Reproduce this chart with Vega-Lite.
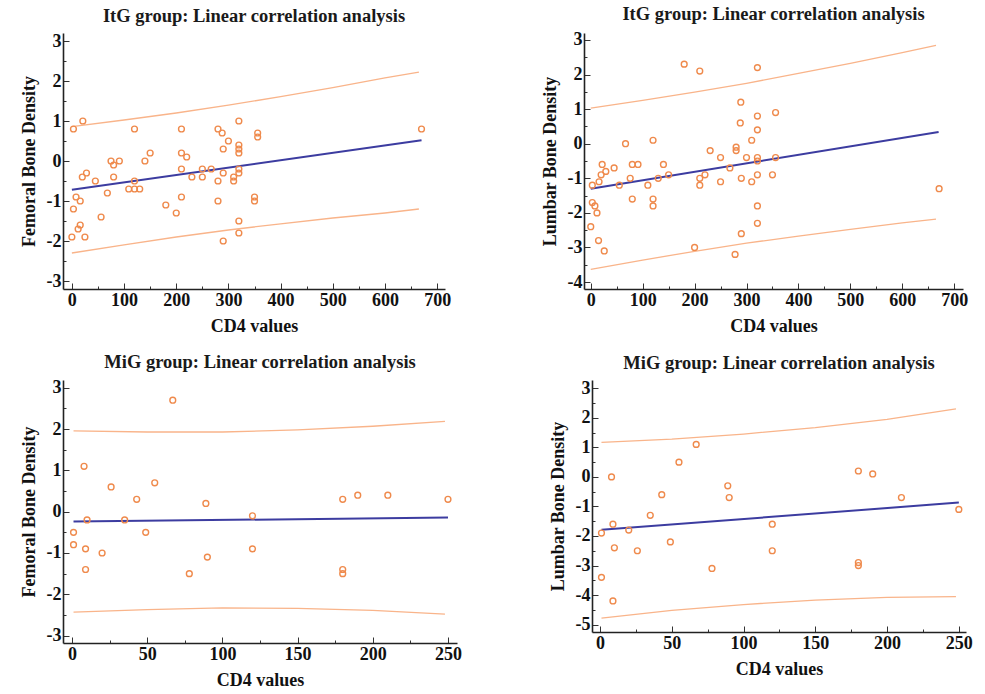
{
  "$schema": "https://vega.github.io/schema/vega-lite/v6.json",
  "background": "white",
  "padding": {"left": 20, "top": 5, "right": 2, "bottom": 2},
  "spacing": 18,
  "datasets": {
    "p1": [
      {"x":3,"y":0.8},{"x":21,"y":1.0},{"x":3,"y":-1.2},{"x":8,"y":-0.9},{"x":16,"y":-1.0},{"x":0,"y":-1.9},{"x":12,"y":-1.7},{"x":16,"y":-1.6},{"x":25,"y":-1.9},{"x":20,"y":-0.4},{"x":28,"y":-0.3},{"x":45,"y":-0.5},{"x":56,"y":-1.4},{"x":68,"y":-0.8},{"x":75,"y":0},{"x":80,"y":-0.1},{"x":80,"y":-0.4},{"x":91,"y":0},{"x":120,"y":0.8},{"x":120,"y":-0.5},{"x":109,"y":-0.7},{"x":120,"y":-0.7},{"x":130,"y":-0.7},{"x":140,"y":0},{"x":150,"y":0.2},{"x":180,"y":-1.1},{"x":200,"y":-1.3},{"x":210,"y":0.8},{"x":210,"y":0.2},{"x":220,"y":0.1},{"x":210,"y":-0.2},{"x":210,"y":-0.9},{"x":230,"y":-0.4},{"x":250,"y":-0.2},{"x":250,"y":-0.4},{"x":267,"y":-0.2},{"x":280,"y":0.8},{"x":288,"y":0.7},{"x":280,"y":-0.5},{"x":280,"y":-1.0},{"x":290,"y":0.3},{"x":290,"y":-0.3},{"x":290,"y":-2.0},{"x":300,"y":0.5},{"x":310,"y":-0.4},{"x":310,"y":-0.5},{"x":320,"y":1.0},{"x":320,"y":0.4},{"x":320,"y":0.3},{"x":320,"y":0.2},{"x":320,"y":-0.2},{"x":320,"y":-0.3},{"x":320,"y":-1.5},{"x":320,"y":-1.8},{"x":350,"y":-0.9},{"x":350,"y":-1.0},{"x":356,"y":0.7},{"x":356,"y":0.6},{"x":670,"y":0.8}
    ],
    "l1": [
      {"x":0,"y":-0.72,"s":"fit"},{"x":670,"y":0.52,"s":"fit"},
      {"x":0,"y":0.86,"s":"upper"},{"x":100,"y":1.025,"s":"upper"},{"x":200,"y":1.2,"s":"upper"},{"x":300,"y":1.395,"s":"upper"},{"x":400,"y":1.61,"s":"upper"},{"x":500,"y":1.835,"s":"upper"},{"x":600,"y":2.08,"s":"upper"},{"x":665,"y":2.22,"s":"upper"},
      {"x":0,"y":-2.3,"s":"lower"},{"x":100,"y":-2.095,"s":"lower"},{"x":200,"y":-1.9,"s":"lower"},{"x":300,"y":-1.725,"s":"lower"},{"x":400,"y":-1.57,"s":"lower"},{"x":500,"y":-1.425,"s":"lower"},{"x":600,"y":-1.3,"s":"lower"},{"x":665,"y":-1.2,"s":"lower"}
    ],
    "p2": [
      {"x":0,"y":-2.4},{"x":3,"y":-1.2},{"x":3,"y":-1.7},{"x":8,"y":-1.8},{"x":12,"y":-2.0},{"x":15,"y":-2.8},{"x":16,"y":-1.1},{"x":20,"y":-0.9},{"x":22,"y":-0.6},{"x":26,"y":-3.1},{"x":29,"y":-0.8},{"x":45,"y":-0.7},{"x":55,"y":-1.2},{"x":67,"y":0},{"x":76,"y":-1.0},{"x":80,"y":-0.6},{"x":80,"y":-1.6},{"x":91,"y":-0.6},{"x":110,"y":-1.2},{"x":120,"y":0.1},{"x":120,"y":-1.6},{"x":120,"y":-1.8},{"x":130,"y":-1.0},{"x":140,"y":-0.6},{"x":150,"y":-0.9},{"x":180,"y":2.3},{"x":200,"y":-3.0},{"x":210,"y":2.1},{"x":210,"y":-1.0},{"x":210,"y":-1.2},{"x":220,"y":-0.9},{"x":230,"y":-0.2},{"x":250,"y":-0.4},{"x":250,"y":-1.1},{"x":268,"y":-0.7},{"x":280,"y":-0.1},{"x":280,"y":-0.2},{"x":278,"y":-3.2},{"x":289,"y":1.2},{"x":288,"y":0.6},{"x":290,"y":-1.0},{"x":290,"y":-2.6},{"x":300,"y":-0.4},{"x":310,"y":0.1},{"x":310,"y":-1.1},{"x":321,"y":2.2},{"x":321,"y":0.8},{"x":321,"y":0.4},{"x":321,"y":-0.4},{"x":321,"y":-0.5},{"x":321,"y":-0.9},{"x":321,"y":-1.8},{"x":321,"y":-2.3},{"x":350,"y":-0.9},{"x":356,"y":0.9},{"x":356,"y":-0.4},{"x":671,"y":-1.3}
    ],
    "l2": [
      {"x":0,"y":-1.3,"s":"fit"},{"x":670,"y":0.34,"s":"fit"},
      {"x":0,"y":1.03,"s":"upper"},{"x":100,"y":1.255,"s":"upper"},{"x":200,"y":1.49,"s":"upper"},{"x":300,"y":1.745,"s":"upper"},{"x":400,"y":2.03,"s":"upper"},{"x":500,"y":2.325,"s":"upper"},{"x":600,"y":2.63,"s":"upper"},{"x":665,"y":2.84,"s":"upper"},
      {"x":0,"y":-3.63,"s":"lower"},{"x":100,"y":-3.365,"s":"lower"},{"x":200,"y":-3.11,"s":"lower"},{"x":300,"y":-2.875,"s":"lower"},{"x":400,"y":-2.67,"s":"lower"},{"x":500,"y":-2.475,"s":"lower"},{"x":600,"y":-2.29,"s":"lower"},{"x":665,"y":-2.18,"s":"lower"}
    ],
    "p3": [
      {"x":1,"y":-0.5},{"x":1,"y":-0.8},{"x":8,"y":1.1},{"x":9,"y":-0.9},{"x":9,"y":-1.4},{"x":10,"y":-0.2},{"x":20,"y":-1.0},{"x":26,"y":0.6},{"x":35,"y":-0.2},{"x":43,"y":0.3},{"x":49,"y":-0.5},{"x":55,"y":0.7},{"x":67,"y":2.7},{"x":78,"y":-1.5},{"x":89,"y":0.2},{"x":90,"y":-1.1},{"x":120,"y":-0.1},{"x":120,"y":-0.9},{"x":180,"y":0.3},{"x":180,"y":-1.4},{"x":180,"y":-1.5},{"x":190,"y":0.4},{"x":210,"y":0.4},{"x":250,"y":0.3}
    ],
    "l3": [
      {"x":1,"y":-0.24,"s":"fit"},{"x":250,"y":-0.14,"s":"fit"},
      {"x":1,"y":1.96,"s":"upper"},{"x":50,"y":1.93,"s":"upper"},{"x":100,"y":1.93,"s":"upper"},{"x":150,"y":1.98,"s":"upper"},{"x":200,"y":2.07,"s":"upper"},{"x":248,"y":2.19,"s":"upper"},
      {"x":1,"y":-2.43,"s":"lower"},{"x":50,"y":-2.37,"s":"lower"},{"x":100,"y":-2.33,"s":"lower"},{"x":150,"y":-2.34,"s":"lower"},{"x":200,"y":-2.39,"s":"lower"},{"x":248,"y":-2.48,"s":"lower"}
    ],
    "p4": [
      {"x":1,"y":-1.9},{"x":1,"y":-3.4},{"x":8,"y":0},{"x":9,"y":-1.6},{"x":9,"y":-4.2},{"x":10,"y":-2.4},{"x":20,"y":-1.8},{"x":26,"y":-2.5},{"x":35,"y":-1.3},{"x":43,"y":-0.6},{"x":49,"y":-2.2},{"x":55,"y":0.5},{"x":67,"y":1.1},{"x":78,"y":-3.1},{"x":89,"y":-0.3},{"x":90,"y":-0.7},{"x":120,"y":-1.6},{"x":120,"y":-2.5},{"x":180,"y":0.2},{"x":180,"y":-2.9},{"x":180,"y":-3.0},{"x":190,"y":0.1},{"x":210,"y":-0.7},{"x":250,"y":-1.1}
    ],
    "l4": [
      {"x":1,"y":-1.79,"s":"fit"},{"x":250,"y":-0.87,"s":"fit"},
      {"x":1,"y":1.17,"s":"upper"},{"x":50,"y":1.28,"s":"upper"},{"x":100,"y":1.45,"s":"upper"},{"x":150,"y":1.67,"s":"upper"},{"x":200,"y":1.95,"s":"upper"},{"x":248,"y":2.3,"s":"upper"},
      {"x":1,"y":-4.78,"s":"lower"},{"x":50,"y":-4.52,"s":"lower"},{"x":100,"y":-4.32,"s":"lower"},{"x":150,"y":-4.17,"s":"lower"},{"x":200,"y":-4.08,"s":"lower"},{"x":248,"y":-4.05,"s":"lower"}
    ]
  },
  "vconcat": [
    {
      "spacing": 90,
      "hconcat": [
        {
          "width": 382, "height": 256,
          "title": "ItG group: Linear correlation analysis",
          "encoding": {
            "x": {"field": "x", "type": "quantitative", "scale": {"domain": [-17, 715], "nice": false, "zero": false},
                  "axis": {"title": "CD4 values", "values": [0,50,100,150,200,250,300,350,400,450,500,550,600,650,700], "labelExpr": "datum.value % 100 === 0 ? '' + datum.value : ''", "tickSize": {"condition": {"test": "datum.value % 100 !== 0", "value": -3}, "value": -6}}},
            "y": {"field": "y", "type": "quantitative", "scale": {"domain": [-3.2, 3.2], "nice": false, "zero": false},
                  "axis": {"title": "Femoral Bone Density", "values": [-3,-2.5,-2,-1.5,-1,-0.5,0,0.5,1,1.5,2,2.5,3], "labelExpr": "datum.value % 1 === 0 ? '' + datum.value : ''", "tickSize": {"condition": {"test": "datum.value % 1 !== 0", "value": -3}, "value": -6}}}
          },
          "layer": [
            {"data": {"name": "l1"}, "mark": {"type": "line"}, "encoding": {"detail": {"field": "s"}, "color": {"field": "s", "type": "nominal", "scale": {"domain": ["fit","upper","lower"], "range": ["#3c3ca0","#f9b48a","#f9b48a"]}, "legend": null}, "strokeWidth": {"condition": {"test": "datum.s === 'fit'", "value": 2}, "value": 1.3}}},
            {"data": {"name": "p1"}, "mark": {"type": "point", "filled": false, "color": "#ef8a4c", "strokeWidth": 1.4, "size": 34, "opacity": 1}}
          ]
        },
        {
          "width": 379, "height": 256,
          "title": "ItG group: Linear correlation analysis",
          "encoding": {
            "x": {"field": "x", "type": "quantitative", "scale": {"domain": [-13, 717], "nice": false, "zero": false},
                  "axis": {"title": "CD4 values", "values": [0,50,100,150,200,250,300,350,400,450,500,550,600,650,700], "labelExpr": "datum.value % 100 === 0 ? '' + datum.value : ''", "tickSize": {"condition": {"test": "datum.value % 100 !== 0", "value": -3}, "value": -6}}},
            "y": {"field": "y", "type": "quantitative", "scale": {"domain": [-4.2, 3.2], "nice": false, "zero": false},
                  "axis": {"title": "Lumbar Bone Density", "values": [-4,-3.5,-3,-2.5,-2,-1.5,-1,-0.5,0,0.5,1,1.5,2,2.5,3], "labelExpr": "datum.value % 1 === 0 ? '' + datum.value : ''", "tickSize": {"condition": {"test": "datum.value % 1 !== 0", "value": -3}, "value": -6}}}
          },
          "layer": [
            {"data": {"name": "l2"}, "mark": {"type": "line"}, "encoding": {"detail": {"field": "s"}, "color": {"field": "s", "type": "nominal", "scale": {"domain": ["fit","upper","lower"], "range": ["#3c3ca0","#f9b48a","#f9b48a"]}, "legend": null}, "strokeWidth": {"condition": {"test": "datum.s === 'fit'", "value": 2}, "value": 1.3}}},
            {"data": {"name": "p2"}, "mark": {"type": "point", "filled": false, "color": "#ef8a4c", "strokeWidth": 1.4, "size": 34, "opacity": 1}}
          ]
        }
      ]
    },
    {
      "spacing": 87,
      "hconcat": [
        {
          "width": 394, "height": 263,
          "title": "MiG group: Linear correlation analysis",
          "encoding": {
            "x": {"field": "x", "type": "quantitative", "scale": {"domain": [-6, 256], "nice": false, "zero": false},
                  "axis": {"title": "CD4 values", "values": [0,25,50,75,100,125,150,175,200,225,250], "labelExpr": "datum.value % 50 === 0 ? '' + datum.value : ''", "tickSize": {"condition": {"test": "datum.value % 50 !== 0", "value": -3}, "value": -6}}},
            "y": {"field": "y", "type": "quantitative", "scale": {"domain": [-3.18, 3.19], "nice": false, "zero": false},
                  "axis": {"title": "Femoral Bone Density", "values": [-3,-2.5,-2,-1.5,-1,-0.5,0,0.5,1,1.5,2,2.5,3], "labelExpr": "datum.value % 1 === 0 ? '' + datum.value : ''", "tickSize": {"condition": {"test": "datum.value % 1 !== 0", "value": -3}, "value": -6}}}
          },
          "layer": [
            {"data": {"name": "l3"}, "mark": {"type": "line"}, "encoding": {"detail": {"field": "s"}, "color": {"field": "s", "type": "nominal", "scale": {"domain": ["fit","upper","lower"], "range": ["#3c3ca0","#f9b48a","#f9b48a"]}, "legend": null}, "strokeWidth": {"condition": {"test": "datum.s === 'fit'", "value": 2}, "value": 1.3}}},
            {"data": {"name": "p3"}, "mark": {"type": "point", "filled": false, "color": "#ef8a4c", "strokeWidth": 1.4, "size": 34, "opacity": 1}}
          ]
        },
        {
          "width": 374, "height": 252,
          "title": "MiG group: Linear correlation analysis",
          "encoding": {
            "x": {"field": "x", "type": "quantitative", "scale": {"domain": [-5.6, 255], "nice": false, "zero": false},
                  "axis": {"title": "CD4 values", "values": [0,25,50,75,100,125,150,175,200,225,250], "labelExpr": "datum.value % 50 === 0 ? '' + datum.value : ''", "tickSize": {"condition": {"test": "datum.value % 50 !== 0", "value": -3}, "value": -6}}},
            "y": {"field": "y", "type": "quantitative", "scale": {"domain": [-5.25, 3.28], "nice": false, "zero": false},
                  "axis": {"title": "Lumbar Bone Density", "values": [-5,-4.5,-4,-3.5,-3,-2.5,-2,-1.5,-1,-0.5,0,0.5,1,1.5,2,2.5,3], "labelExpr": "datum.value % 1 === 0 ? '' + datum.value : ''", "tickSize": {"condition": {"test": "datum.value % 1 !== 0", "value": -3}, "value": -6}}}
          },
          "layer": [
            {"data": {"name": "l4"}, "mark": {"type": "line"}, "encoding": {"detail": {"field": "s"}, "color": {"field": "s", "type": "nominal", "scale": {"domain": ["fit","upper","lower"], "range": ["#3c3ca0","#f9b48a","#f9b48a"]}, "legend": null}, "strokeWidth": {"condition": {"test": "datum.s === 'fit'", "value": 2}, "value": 1.3}}},
            {"data": {"name": "p4"}, "mark": {"type": "point", "filled": false, "color": "#ef8a4c", "strokeWidth": 1.4, "size": 34, "opacity": 1}}
          ]
        }
      ]
    }
  ],
  "config": {
    "view": {"stroke": null},
    "font": "Liberation Serif",
    "title": {"font": "Liberation Serif", "fontSize": 18.5, "fontWeight": "bold", "color": "#1a1a1a", "frame": "group", "anchor": "middle", "offset": 7},
    "axis": {
      "grid": false,
      "domainColor": "#222222", "domainWidth": 1.6,
      "tickColor": "#333333", "tickWidth": 1,
      "labelFont": "Liberation Serif", "labelFontSize": 18, "labelFontWeight": "bold", "labelColor": "#111111",
      "titleFont": "Liberation Serif", "titleFontSize": 18, "titleFontWeight": "bold", "titleColor": "#111111",
      "labelPadding": 8
    },
    "axisX": {"titlePadding": 8},
    "axisY": {"titlePadding": 8}
  }
}
